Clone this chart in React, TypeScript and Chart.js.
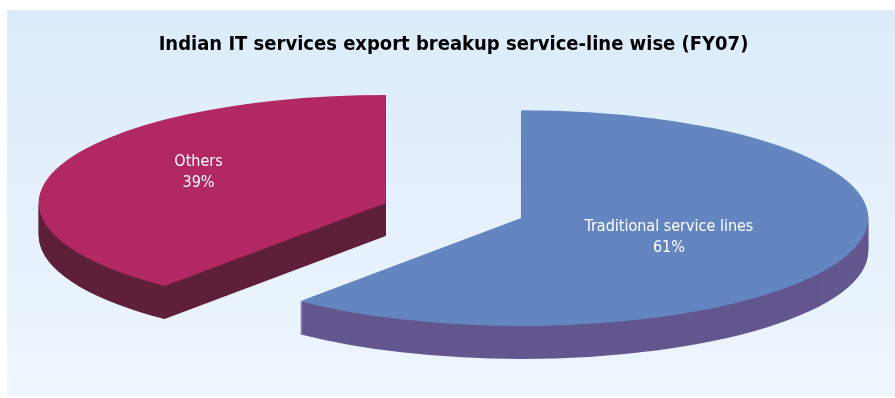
import React, { useEffect, useRef } from "react";
import { Chart, registerables } from "chart.js";

Chart.register(...registerables);

const TITLE = "Indian IT services export breakup service-line wise (FY07)";
const categories = ["Traditional service lines", "Others"];
const shares = [61, 39];
const topColors = ["#6386c1", "#b22862"];
const sideColors = ["#63578f", "#5f203a"];

const W = 895;
const H = 398;
const RADIUS = 347;
const TILT = 0.311;
const DEPTH = 33;
const EXPLODE = 72;
const LABEL_PLACE = [
  { frac: 0.46, turn: 2.5 },
  { frac: 0.61, turn: 8 },
];
const LABEL_FONT = "16px 'Liberation Sans Narrow', 'DejaVu Sans Condensed', 'Arial Narrow', sans-serif";
const TITLE_FAMILY = "'Liberation Sans Narrow', 'DejaVu Sans Condensed', 'Arial Narrow', sans-serif";

const pie3d = {
  id: "pie3d",
  beforeDatasetsDraw(chart: any) {
    const ctx: CanvasRenderingContext2D = chart.ctx;
    const meta = chart.getDatasetMeta(0);
    const total = shares.reduce((a, b) => a + b, 0);
    const placed: any[] = [];
    meta.data.forEach((arc: any, i: number) => {
      const { x, y, startAngle, endAngle, outerRadius } = arc.getProps(
        ["x", "y", "startAngle", "endAngle", "outerRadius"],
        true
      );
      const h = (startAngle + endAngle) / 2;
      const ex = Math.cos(h) * EXPLODE;
      const ey = Math.sin(h) * EXPLODE * TILT;
      for (let d = DEPTH; d >= 1; d--) {
        ctx.save();
        ctx.translate(x + ex, y + ey + d);
        ctx.scale(1, TILT);
        ctx.beginPath();
        ctx.moveTo(0, 0);
        ctx.arc(0, 0, outerRadius, startAngle, endAngle);
        ctx.closePath();
        ctx.fillStyle = sideColors[i];
        ctx.fill();
        ctx.restore();
      }
      ctx.save();
      ctx.translate(x + ex, y + ey);
      ctx.scale(1, TILT);
      ctx.translate(-x, -y);
      arc.draw(ctx);
      ctx.restore();
      const lp = LABEL_PLACE[i];
      const a = h + (lp.turn * Math.PI) / 180;
      const r = lp.frac * outerRadius;
      placed.push({
        lx: x + ex + Math.cos(a) * r,
        ly: y + ey + Math.sin(a) * r * TILT,
        text: [categories[i], Math.round((shares[i] / total) * 100) + "%"],
      });
    });
    ctx.save();
    ctx.fillStyle = "#ffffff";
    ctx.font = LABEL_FONT;
    ctx.textAlign = "center";
    ctx.textBaseline = "middle";
    placed.forEach((p) => {
      ctx.fillText(p.text[0], p.lx, p.ly - 10.5);
      ctx.fillText(p.text[1], p.lx, p.ly + 10.5);
    });
    ctx.restore();
    return false;
  },
};

export default function App() {
  const ref = useRef<HTMLCanvasElement>(null);
  useEffect(() => {
    if (!ref.current) return;
    const chart = new Chart(ref.current, {
      type: "pie",
      data: {
        labels: categories,
        datasets: [
          {
            data: shares,
            backgroundColor: topColors,
            borderWidth: 0,
          },
        ],
      },
      options: {
        responsive: false,
        animation: false,
        events: [],
        radius: RADIUS,
        layout: { padding: { left: 12, right: 0, top: 0, bottom: 34 } },
        plugins: {
          legend: { display: false },
          tooltip: { enabled: false },
          title: {
            display: true,
            text: TITLE,
            color: "#000000",
            font: { family: TITLE_FAMILY, size: 20, weight: "bold", lineHeight: 1.2 },
            padding: { top: 33, bottom: 0 },
          },
        },
      } as any,
      plugins: [pie3d],
    });
    return () => chart.destroy();
  }, []);
  return (
    <div style={{ position: "absolute", left: 0, top: 0, width: W, height: H, background: "#ffffff", overflow: "hidden" }}>
      <div
        style={{
          position: "absolute",
          left: 7,
          top: 10,
          width: W - 7,
          height: H - 11,
          background: "linear-gradient(to bottom, #dbecfa 0%, #eef5fd 100%)",
        }}
      />
      <canvas ref={ref} width={W} height={H} style={{ position: "absolute", left: 0, top: 0, display: "block" }} />
    </div>
  );
}
